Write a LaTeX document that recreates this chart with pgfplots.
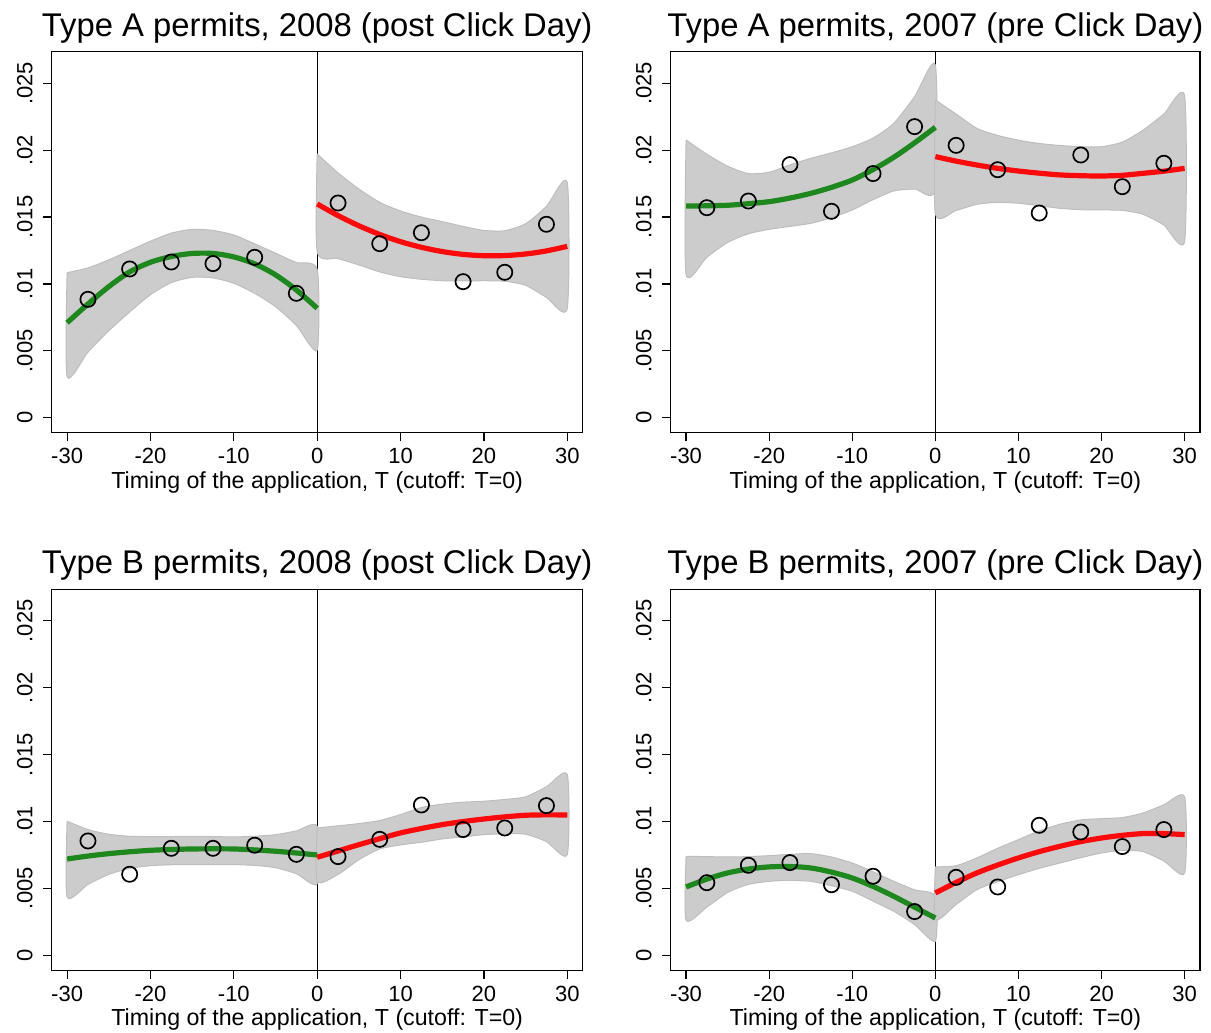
\documentclass[border=0pt]{standalone}
\usepackage{fontspec}
\setmainfont{Liberation Sans}
\usepackage{pgfplots}
\pgfplotsset{compat=1.18}

\definecolor{bandfill}{RGB}{204,204,204}
\definecolor{bandedge}{RGB}{190,190,190}
\definecolor{fitgreen}{RGB}{30,135,30}
\definecolor{fitred}{RGB}{250,10,10}

\pgfplotsset{
  rdpanel/.style={
    scale only axis,
    height=190.5pt,
    xmin=-31.85, xmax=31.85,
    ymin=-0.00112, ymax=0.02736,
    xtick={-30,-20,-10,0,10,20,30},
    xticklabels={-30,-20,-10,0,10,20,30},
    ytick={0,0.005,0.01,0.015,0.02,0.025},
    yticklabels={0,.005,.01,.015,.02,.025},
    scaled y ticks=false,
    tick align=outside,
    xtick pos=bottom, ytick pos=left,
    major tick length=4.3pt,
    tick style={black, line width=0.6pt},
    axis line style={black, line width=0.7pt},
    ticklabel style={font=\fontsize{11}{13}\selectfont},
    xticklabel style={anchor=north, inner sep=0pt, yshift=-3.2pt},
    yticklabel style={xshift=-5pt, rotate=90, anchor=south, inner sep=0pt},
    title style={at={(0.5,1)}, anchor=base, inner sep=0pt, yshift=1.85pt,
                 font=\fontsize{16.4}{19}\selectfont},
    xlabel={Timing of the application, T (cutoff: T=0)},
    xlabel style={at={(0.5,0)}, anchor=base, inner sep=0pt, yshift=-27.8pt,
                  font=\fontsize{11.6}{14}\selectfont},
    clip=true,
  },
  band/.style={fill=bandfill, draw=bandedge, line width=0.5pt},
  leftfit/.style={fitgreen, line width=2.6pt, smooth, tension=0.5},
  rightfit/.style={fitred, line width=2.6pt, smooth, tension=0.5},
  bins/.style={only marks, mark=o, mark size=3.8pt,
               mark options={black, line width=0.85pt}},
  cutoff/.style={black, line width=0.65pt},
}

\begin{document}
\begin{tikzpicture}
\useasboundingbox (0,0) rectangle (605.5pt,-516.5pt);

% ---------------- Type A, 2008 ----------------
\begin{axis}[rdpanel, width=265.5pt, at={(25.85pt,-216.35pt)}, anchor=south west,
  title={Type A permits, 2008 (post Click Day)}]
\addplot[cutoff] coordinates {(0,-0.002) (0,0.03)};
\addplot[band, smooth, tension=0.4] coordinates {
  (-30,10.84e-3) (-27.5,11.2e-3) (-25,11.8e-3) (-22.5,12.5e-3) (-20,13.2e-3)
  (-17.5,13.8e-3) (-15,14.08e-3) (-12.5,14.0e-3) (-10,13.66e-3) (-7.5,13.0e-3)
  (-5,12.3e-3) (-2.5,11.6e-3) (0,11.09e-3)
  (0,5.06e-3) (-2.5,6.9e-3) (-5,8.3e-3) (-7.5,9.3e-3) (-10,10.05e-3)
  (-12.5,10.45e-3) (-15,10.49e-3) (-17.5,10.1e-3) (-20,9.2e-3) (-22.5,7.9e-3)
  (-25,6.5e-3) (-27.5,4.9e-3) (-30,3.07e-3) (-30,10.84e-3)};
\addplot[band, smooth, tension=0.4] coordinates {
  (0,19.72e-3) (2.5,18.3e-3) (5,17.1e-3) (7.5,16.1e-3) (10,15.45e-3)
  (12.5,15.0e-3) (15,14.66e-3) (17.5,14.3e-3) (20,14.0e-3) (22.5,13.98e-3)
  (25,14.5e-3) (27.5,15.8e-3) (30,17.57e-3)
  (30,8.18e-3) (27.5,9.0e-3) (25,9.9e-3) (22.5,10.2e-3) (20,10.24e-3)
  (17.5,10.22e-3) (15,10.24e-3) (12.5,10.35e-3) (10,10.54e-3) (7.5,10.9e-3)
  (5,11.42e-3) (2.5,11.9e-3) (0,12.39e-3) (0,19.72e-3)};
\addplot[leftfit] coordinates {
  (-30,7.10e-3) (-27.5,8.50e-3) (-25,9.80e-3) (-22.5,10.90e-3) (-20,11.62e-3)
  (-17.5,12.05e-3) (-15,12.28e-3) (-12.5,12.28e-3) (-10,12.02e-3)
  (-7.5,11.50e-3) (-5,10.68e-3) (-2.5,9.55e-3) (0,8.18e-3)};
\addplot[rightfit] coordinates {
  (0,15.98e-3) (2.5,15.11e-3) (5,14.35e-3) (7.5,13.70e-3) (10,13.16e-3)
  (12.5,12.74e-3) (15,12.42e-3) (17.5,12.21e-3) (20,12.11e-3) (22.5,12.12e-3)
  (25,12.24e-3) (27.5,12.47e-3) (30,12.81e-3)};
\addplot[bins] coordinates {
  (-27.5,8.85e-3) (-22.5,11.12e-3) (-17.5,11.64e-3) (-12.5,11.52e-3)
  (-7.5,11.99e-3) (-2.5,9.30e-3) (2.5,16.05e-3) (7.5,13.01e-3)
  (12.5,13.83e-3) (17.5,10.17e-3) (22.5,10.87e-3) (27.5,14.46e-3)};
\end{axis}

% ---------------- Type A, 2007 ----------------
\begin{axis}[rdpanel, width=264.65pt, at={(335.35pt,-216.35pt)}, anchor=south west,
  title={Type A permits, 2007 (pre Click Day)}]
\addplot[cutoff] coordinates {(0,-0.002) (0,0.03)};
\addplot[band, smooth, tension=0.4] coordinates {
  (-30,20.76e-3) (-27.5,19.7e-3) (-25,18.8e-3) (-22.5,18.25e-3) (-20,18.35e-3)
  (-17.5,18.9e-3) (-15,19.39e-3) (-12.5,19.8e-3) (-10,20.26e-3) (-7.5,20.9e-3)
  (-5,22.01e-3) (-2.5,24.0e-3) (0,26.37e-3)
  (0,17.05e-3) (-2.5,17.1e-3) (-5,16.95e-3) (-7.5,16.3e-3) (-10,15.53e-3)
  (-12.5,14.95e-3) (-15,14.53e-3) (-17.5,14.3e-3) (-20,14.08e-3) (-22.5,13.75e-3)
  (-25,13.1e-3) (-27.5,12.0e-3) (-30,10.72e-3) (-30,20.76e-3)};
\addplot[band, smooth, tension=0.4] coordinates {
  (0,23.75e-3) (2.5,22.7e-3) (5,21.63e-3) (7.5,21.1e-3) (10,20.75e-3)
  (12.5,20.5e-3) (15,20.35e-3) (17.5,20.26e-3) (20,20.26e-3) (22.5,20.6e-3)
  (25,21.5e-3) (27.5,22.7e-3) (30,24.05e-3)
  (30,13.21e-3) (27.5,14.4e-3) (25,15.2e-3) (22.5,15.5e-3) (20,15.53e-3)
  (17.5,15.55e-3) (15,15.65e-3) (12.5,15.85e-3) (10,16.03e-3) (7.5,16.1e-3)
  (5,15.95e-3) (2.5,15.5e-3) (0,15.23e-3) (0,23.75e-3)};
\addplot[leftfit] coordinates {
  (-30,15.83e-3) (-27.5,15.84e-3) (-25,15.88e-3) (-22.5,16.0e-3) (-20,16.15e-3)
  (-17.5,16.42e-3) (-15,16.77e-3) (-12.5,17.22e-3) (-10,17.77e-3)
  (-7.5,18.55e-3) (-5,19.47e-3) (-2.5,20.55e-3) (0,21.71e-3)};
\addplot[rightfit] coordinates {
  (0,19.52e-3) (2.5,19.18e-3) (5,18.89e-3) (7.5,18.64e-3) (10,18.44e-3)
  (12.5,18.28e-3) (15,18.15e-3) (17.5,18.09e-3) (20,18.07e-3) (22.5,18.12e-3)
  (25,18.27e-3) (27.5,18.43e-3) (30,18.64e-3)};
\addplot[bins] coordinates {
  (-27.5,15.70e-3) (-22.5,16.20e-3) (-17.5,18.92e-3) (-12.5,15.43e-3)
  (-7.5,18.25e-3) (-2.5,21.76e-3) (2.5,20.36e-3) (7.5,18.54e-3)
  (12.5,15.30e-3) (17.5,19.64e-3) (22.5,17.27e-3) (27.5,19.02e-3)};
\end{axis}

% ---------------- Type B, 2008 ----------------
\begin{axis}[rdpanel, width=265.5pt, at={(25.85pt,-485.15pt)}, anchor=south west,
  title={Type B permits, 2008 (post Click Day)}]
\addplot[cutoff] coordinates {(0,-0.002) (0,0.03)};
\addplot[band, smooth, tension=0.4] coordinates {
  (-30,10.02e-3) (-27.5,9.4e-3) (-25,9.05e-3) (-22.5,8.9e-3) (-20,8.88e-3)
  (-17.5,8.88e-3) (-15,8.9e-3) (-12.5,8.88e-3) (-10,8.85e-3) (-7.5,8.9e-3)
  (-5,9.02e-3) (-2.5,9.3e-3) (0,9.65e-3)
  (0,5.36e-3) (-2.5,6.1e-3) (-5,6.55e-3) (-7.5,6.72e-3) (-10,6.78e-3)
  (-12.5,6.78e-3) (-15,6.78e-3) (-17.5,6.77e-3) (-20,6.7e-3) (-22.5,6.5e-3)
  (-25,6.05e-3) (-27.5,5.3e-3) (-30,4.36e-3) (-30,10.02e-3)};
\addplot[band, smooth, tension=0.4] coordinates {
  (0,9.52e-3) (2.5,9.68e-3) (5,9.85e-3) (7.5,10.08e-3) (10,10.52e-3)
  (12.5,11.05e-3) (15,11.3e-3) (17.5,11.45e-3) (20,11.52e-3) (22.5,11.65e-3)
  (25,11.85e-3) (27.5,12.6e-3) (30,13.51e-3)
  (30,7.53e-3) (27.5,8.5e-3) (25,9.05e-3) (22.5,9.08e-3) (20,9.02e-3)
  (17.5,8.85e-3) (15,8.7e-3) (12.5,8.45e-3) (10,8.25e-3) (7.5,7.95e-3)
  (5,7.15e-3) (2.5,6.05e-3) (0,5.53e-3) (0,9.52e-3)};
\addplot[leftfit] coordinates {
  (-30,7.20e-3) (-27.5,7.42e-3) (-25,7.60e-3) (-22.5,7.74e-3) (-20,7.85e-3)
  (-17.5,7.91e-3) (-15,7.95e-3) (-12.5,7.96e-3) (-10,7.95e-3)
  (-7.5,7.88e-3) (-5,7.78e-3) (-2.5,7.65e-3) (0,7.50e-3)};
\addplot[rightfit] coordinates {
  (0,7.33e-3) (2.5,7.8e-3) (5,8.27e-3) (7.5,8.72e-3) (10,9.15e-3)
  (12.5,9.48e-3) (15,9.77e-3) (17.5,10.0e-3) (20,10.19e-3) (22.5,10.35e-3)
  (25,10.47e-3) (27.5,10.5e-3) (30,10.49e-3)};
\addplot[bins] coordinates {
  (-27.5,8.55e-3) (-22.5,6.06e-3) (-17.5,8.00e-3) (-12.5,8.00e-3)
  (-7.5,8.23e-3) (-2.5,7.55e-3) (2.5,7.38e-3) (7.5,8.67e-3)
  (12.5,11.24e-3) (17.5,9.40e-3) (22.5,9.52e-3) (27.5,11.19e-3)};
\end{axis}

% ---------------- Type B, 2007 ----------------
\begin{axis}[rdpanel, width=264.65pt, at={(335.35pt,-485.15pt)}, anchor=south west,
  title={Type B permits, 2007 (pre Click Day)}]
\addplot[cutoff] coordinates {(0,-0.002) (0,0.03)};
\addplot[band, smooth, tension=0.4] coordinates {
  (-30,7.40e-3) (-27.5,7.38e-3) (-25,7.35e-3) (-22.5,7.38e-3) (-20,7.45e-3)
  (-17.5,7.55e-3) (-15,7.6e-3) (-12.5,7.35e-3) (-10,6.9e-3) (-7.5,6.25e-3)
  (-5,5.53e-3) (-2.5,4.9e-3) (0,4.41e-3)
  (0,1.05e-3) (-2.5,2.3e-3) (-5,3.29e-3) (-7.5,4.05e-3) (-10,4.79e-3)
  (-12.5,5.2e-3) (-15,5.53e-3) (-17.5,5.6e-3) (-20,5.53e-3) (-22.5,5.3e-3)
  (-25,4.7e-3) (-27.5,3.6e-3) (-30,2.62e-3) (-30,7.40e-3)};
\addplot[band, smooth, tension=0.4] coordinates {
  (0,6.61e-3) (2.5,6.7e-3) (5,7.28e-3) (7.5,8.0e-3) (10,8.65e-3)
  (12.5,9.3e-3) (15,9.8e-3) (17.5,10.12e-3) (20,10.22e-3) (22.5,10.3e-3)
  (25,10.64e-3) (27.5,11.25e-3) (30,11.84e-3)
  (30,6.16e-3) (27.5,7.05e-3) (25,7.75e-3) (22.5,7.85e-3) (20,7.65e-3)
  (17.5,7.3e-3) (15,6.9e-3) (12.5,6.5e-3) (10,6.03e-3) (7.5,5.5e-3)
  (5,4.91e-3) (2.5,3.8e-3) (0,2.67e-3) (0,6.61e-3)};
\addplot[leftfit] coordinates {
  (-30,5.11e-3) (-27.5,5.7e-3) (-25,6.16e-3) (-22.5,6.45e-3) (-20,6.61e-3)
  (-17.5,6.64e-3) (-15,6.53e-3) (-12.5,6.22e-3) (-10,5.78e-3)
  (-7.5,5.15e-3) (-5,4.41e-3) (-2.5,3.6e-3) (0,2.79e-3)};
\addplot[rightfit] coordinates {
  (0,4.66e-3) (2.5,5.45e-3) (5,6.16e-3) (7.5,6.75e-3) (10,7.28e-3)
  (12.5,7.75e-3) (15,8.15e-3) (17.5,8.5e-3) (20,8.77e-3) (22.5,8.97e-3)
  (25,9.10e-3) (27.5,9.1e-3) (30,9.02e-3)};
\addplot[bins] coordinates {
  (-27.5,5.43e-3) (-22.5,6.73e-3) (-17.5,6.93e-3) (-12.5,5.28e-3)
  (-7.5,5.91e-3) (-2.5,3.27e-3) (2.5,5.83e-3) (7.5,5.11e-3)
  (12.5,9.72e-3) (17.5,9.22e-3) (22.5,8.13e-3) (27.5,9.40e-3)};
\end{axis}
\end{tikzpicture}
\end{document}
